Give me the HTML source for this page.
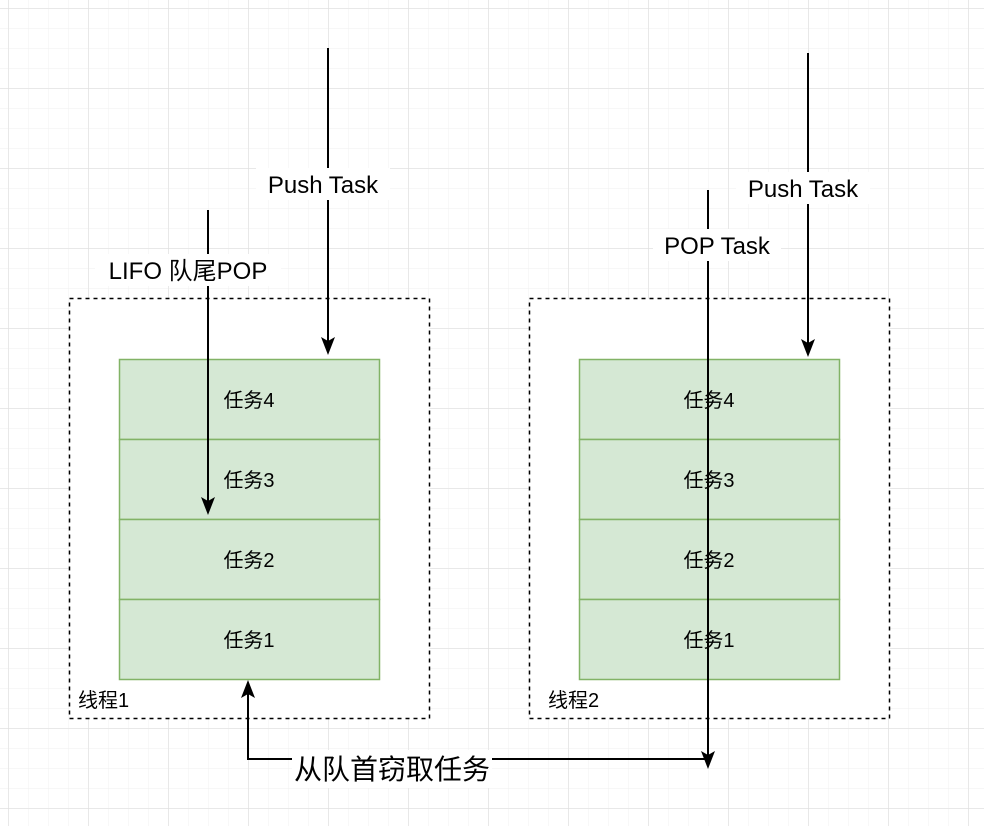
<!DOCTYPE html>
<html><head><meta charset="utf-8"><style>
html,body{margin:0;padding:0;background:#fff;}
body{width:984px;height:826px;overflow:hidden;}
text{font-family:"Liberation Sans","Noto Sans CJK SC",sans-serif;}
</style></head><body>
<svg width="984" height="826" viewBox="0 0 984 826" xmlns="http://www.w3.org/2000/svg">
<defs>
<pattern id="minor" width="20" height="20" patternUnits="userSpaceOnUse" x="8" y="8">
<path d="M0 0H20M0 0V20" stroke="#f2f2f2" stroke-width="1.2" fill="none"/>
</pattern>
<pattern id="major" width="80" height="80" patternUnits="userSpaceOnUse" x="8.5" y="8.5">
<path d="M0 0H80M0 0V80" stroke="#dddddd" stroke-width="1" fill="none"/>
</pattern>
<marker id="ah" markerWidth="12" markerHeight="12" refX="6" refY="10" orient="auto" markerUnits="userSpaceOnUse" viewBox="0 0 12 12">
</marker>
</defs>
<rect width="984" height="826" fill="#fff"/>
<rect width="984" height="826" fill="url(#minor)"/>
<rect width="984" height="826" fill="url(#major)"/>

<!-- containers -->
<rect x="69.5" y="298.5" width="360" height="420" fill="#fff" stroke="#000" stroke-width="1.5" stroke-dasharray="4,4"/>
<rect x="529.5" y="298.5" width="360" height="420" fill="#fff" stroke="#000" stroke-width="1.5" stroke-dasharray="4,4"/>
<g fill="#d5e8d4" stroke="#82b366" stroke-width="1.5">
<rect x="119.5" y="359.5" width="260" height="80"/>
<rect x="119.5" y="439.5" width="260" height="80"/>
<rect x="119.5" y="519.5" width="260" height="80"/>
<rect x="119.5" y="599.5" width="260" height="80"/>
<rect x="579.5" y="359.5" width="260" height="80"/>
<rect x="579.5" y="439.5" width="260" height="80"/>
<rect x="579.5" y="519.5" width="260" height="80"/>
<rect x="579.5" y="599.5" width="260" height="80"/>
</g>
<g font-size="20" text-anchor="middle" fill="#000">
<text x="249" y="407">任务4</text>
<text x="249" y="487">任务3</text>
<text x="249" y="567">任务2</text>
<text x="249" y="647">任务1</text>
<text x="709" y="407">任务4</text>
<text x="709" y="487">任务3</text>
<text x="709" y="567">任务2</text>
<text x="709" y="647">任务1</text>
</g>
<text x="78" y="707" font-size="20">线程1</text>
<text x="548" y="707" font-size="20">线程2</text>

<!-- arrows -->
<g stroke="#000" stroke-width="2" fill="none">
<path d="M328 48V345"/>
<path d="M808 53V347"/>
<path d="M208 210V505"/>
<path d="M708 190V758"/>
<path d="M708 759H248V692"/>
</g>
<g fill="#000">
<path d="M328 355L321 337L328 341L335 337Z"/>
<path d="M808 357L801 339L808 343L815 339Z"/>
<path d="M208 515L201 497L208 501L215 497Z"/>
<path d="M708 769L701 751L708 755L715 751Z"/>
<path d="M248 680L241 698L248 694L255 698Z"/>
</g>

<!-- labels -->
<g font-size="24" fill="#000" text-anchor="middle">
<rect x="256" y="168" width="134" height="32" fill="#fff"/>
<text x="323" y="193">Push Task</text>
<rect x="736" y="172" width="134" height="32" fill="#fff"/>
<text x="803" y="197">Push Task</text>
<rect x="95" y="254" width="186" height="32" fill="#fff"/>
<text x="188" y="279">LIFO 队尾POP</text>
<rect x="653" y="229" width="128" height="32" fill="#fff"/>
<text x="717" y="254">POP Task</text>
<rect x="292" y="750" width="200" height="38" fill="#fff"/>
<text x="392" y="779" font-size="28">从队首窃取任务</text>
</g>
</svg>
</body></html>
